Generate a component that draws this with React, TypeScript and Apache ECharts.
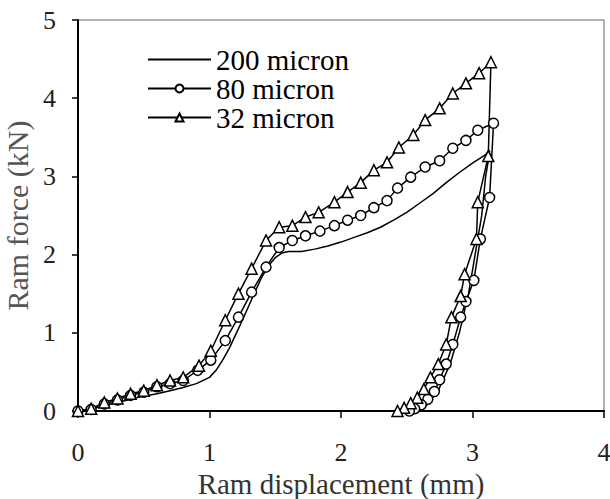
import React, { useEffect, useRef } from "react";
import * as echarts from "echarts";

// 200 micron (plain line): loading then unloading
const x200 = [0, 0.1, 0.2, 0.3, 0.4, 0.5, 0.6, 0.7, 0.8, 0.9, 1.0, 1.05, 1.1, 1.15, 1.2, 1.25, 1.3, 1.35, 1.4, 1.45, 1.5, 1.55, 1.6, 1.7, 1.8, 1.9, 2.0, 2.1, 2.2, 2.3, 2.4, 2.5, 2.6, 2.7, 2.8, 2.9, 3.0, 3.1, 3.13,
  3.12, 3.1, 3.07, 3.02, 2.97, 2.9, 2.83, 2.75, 2.67, 2.6];
const y200 = [0, 0.03, 0.07, 0.11, 0.15, 0.19, 0.22, 0.26, 0.3, 0.35, 0.43, 0.52, 0.65, 0.8, 0.98, 1.16, 1.35, 1.54, 1.72, 1.86, 1.96, 2.02, 2.04, 2.04, 2.07, 2.11, 2.16, 2.22, 2.28, 2.35, 2.44, 2.54, 2.66, 2.78, 2.92, 3.05, 3.17, 3.28, 3.33,
  3.2, 3.0, 2.5, 2.0, 1.5, 1.0, 0.6, 0.3, 0.1, 0];

// 80 micron (circles)
const x80 = [0, 0.1, 0.2, 0.3, 0.4, 0.5, 0.6, 0.7, 0.8, 0.91, 1.01, 1.12, 1.22, 1.32, 1.43, 1.53, 1.63, 1.73, 1.84, 1.95, 2.05, 2.15, 2.25, 2.35, 2.43, 2.53, 2.64, 2.75, 2.85, 2.95, 3.04, 3.16,
  3.13, 3.06, 3.01, 2.95, 2.91, 2.85, 2.8, 2.75, 2.71, 2.66, 2.61, 2.56, 2.52];
const y80 = [0, 0.02, 0.09, 0.14, 0.2, 0.24, 0.31, 0.35, 0.39, 0.52, 0.65, 0.9, 1.2, 1.52, 1.84, 2.09, 2.18, 2.24, 2.3, 2.37, 2.44, 2.5, 2.6, 2.69, 2.85, 2.99, 3.12, 3.2, 3.36, 3.46, 3.59, 3.68,
  2.73, 2.2, 1.67, 1.4, 1.2, 0.85, 0.6, 0.4, 0.25, 0.15, 0.08, 0.03, 0];

// 32 micron (triangles)
const x32 = [0, 0.1, 0.2, 0.3, 0.4, 0.5, 0.6, 0.7, 0.8, 0.92, 1.01, 1.12, 1.22, 1.32, 1.43, 1.53, 1.63, 1.73, 1.83, 1.95, 2.05, 2.15, 2.25, 2.35, 2.44, 2.55, 2.64, 2.75, 2.85, 2.95, 3.05, 3.14,
  3.12, 3.04, 3.03, 2.94, 2.91, 2.84, 2.8, 2.74, 2.68, 2.63, 2.58, 2.53, 2.48, 2.43];
const y32 = [0, 0.03, 0.11, 0.16, 0.22, 0.26, 0.33, 0.39, 0.43, 0.58, 0.77, 1.16, 1.5, 1.82, 2.18, 2.35, 2.37, 2.48, 2.54, 2.67, 2.8, 2.92, 3.08, 3.18, 3.37, 3.53, 3.72, 3.87, 4.06, 4.19, 4.32, 4.46,
  3.26, 2.67, 2.2, 1.75, 1.47, 1.2, 0.85, 0.6, 0.43, 0.28, 0.17, 0.1, 0.04, 0];

const seriesNames = ["200 micron", "80 micron", "32 micron"];
const xTicks = [0, 1, 2, 3, 4];
const yTicks = [0, 1, 2, 3, 4, 5];

const FONT = "Liberation Serif";

const zip = (xs: number[], ys: number[]) => xs.map((x, i) => [x, ys[i]]);

export default function App() {
  const ref = useRef<HTMLDivElement>(null);
  useEffect(() => {
    if (!ref.current) return;
    const chart = echarts.init(ref.current, undefined, { renderer: "svg" });
    const lineStyle = { color: "#000", width: 1.5 };
    const itemStyle = { color: "#fff", borderColor: "#000", borderWidth: 1.5 };
    chart.setOption({
      animation: false,
      backgroundColor: "#fff",
      textStyle: { fontFamily: FONT },
      grid: {
        left: 78,
        right: 6,
        top: 20,
        bottom: 88,
        containLabel: false,
        outerBoundsMode: "none",
        show: true,
        borderColor: "#999",
        borderWidth: 1.5,
      },
      legend: {
        orient: "vertical",
        left: 147,
        top: 45,
        padding: 0,
        itemGap: 0,
        itemWidth: 63,
        itemHeight: 10,
        data: [
          { name: seriesNames[0], itemStyle: { opacity: 0 } },
          { name: seriesNames[1] },
          { name: seriesNames[2] },
        ],
        textStyle: { fontFamily: FONT, fontSize: 29, lineHeight: 29, color: "#000" },
      },
      xAxis: {
        type: "value",
        min: xTicks[0],
        max: xTicks[xTicks.length - 1],
        interval: 1,
        name: "Ram displacement (mm)",
        nameLocation: "middle",
        nameGap: 58,
        nameTextStyle: { fontFamily: FONT, fontSize: 29, lineHeight: 28, color: "#333" },
        axisLine: { lineStyle: { color: "#000", width: 2 } },
        axisTick: { show: true, inside: false, length: 7, lineStyle: { color: "#000", width: 1.5 } },
        axisLabel: { fontFamily: FONT, fontSize: 26, color: "#222", margin: 28 },
        splitLine: { show: false },
      },
      yAxis: {
        type: "value",
        min: yTicks[0],
        max: yTicks[yTicks.length - 1],
        interval: 1,
        name: "Ram force (kN)",
        nameLocation: "middle",
        nameGap: 40,
        nameRotate: 90,
        nameTextStyle: { fontFamily: FONT, fontSize: 30, color: "#555" },
        axisLine: { lineStyle: { color: "#000", width: 2 } },
        axisTick: { show: true, inside: false, length: 6, lineStyle: { color: "#000", width: 1.5 } },
        axisLabel: { fontFamily: FONT, fontSize: 26, color: "#222", margin: 22 },
        splitLine: { show: false },
      },
      series: [
        {
          name: seriesNames[0],
          type: "line",
          data: zip(x200, y200),
          showSymbol: false,
          symbol: "none",
          lineStyle,
          itemStyle: { color: "#000" },
        },
        {
          name: seriesNames[1],
          type: "line",
          data: zip(x80, y80),
          symbol: "circle",
          symbolSize: 10,
          lineStyle,
          itemStyle,
        },
        {
          name: seriesNames[2],
          type: "line",
          data: zip(x32, y32),
          symbol: "triangle",
          symbolSize: 11,
          lineStyle,
          itemStyle,
        },
      ],
    });
    return () => chart.dispose();
  }, []);
  return <div ref={ref} style={{ width: 610, height: 499, position: "absolute", left: 0, top: 0 }} />;
}
